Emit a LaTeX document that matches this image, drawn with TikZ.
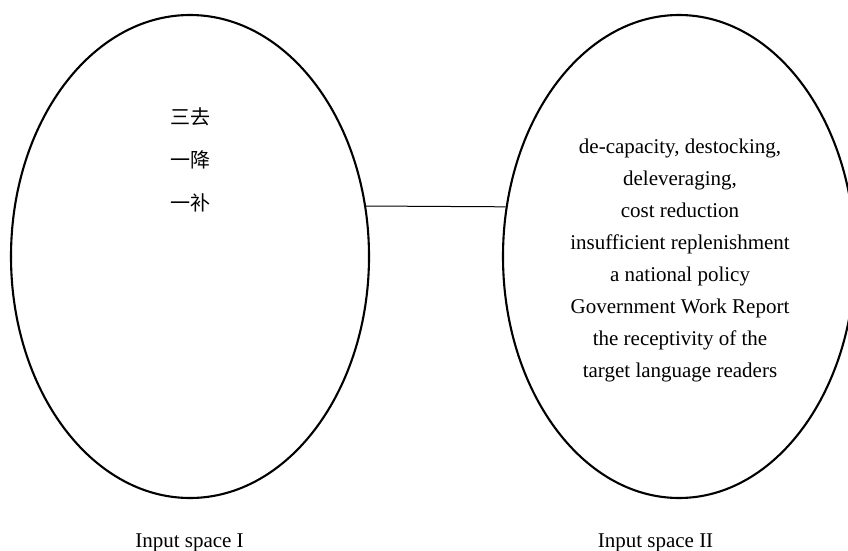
\documentclass[tikz,border=0pt]{standalone}
\usepackage{fontspec}
\setmainfont{Liberation Serif}
\newfontfamily\cjk{Noto Sans CJK SC}
\usepackage{tikz}
\usetikzlibrary{shapes.geometric}
\usetikzlibrary{positioning}

\begin{document}
\begin{tikzpicture}[
        x=1pt, y=-1pt,
        every node/.style={inner sep=0pt},
        ]
        \tikzstyle{inputspace} = [ellipse, draw, line width=2.1pt, minimum width=358pt, minimum height=483pt];
        \tikzstyle{spacename} = [font=\fontsize{21}{21}\selectfont, anchor=base];
        \useasboundingbox (0,0) rectangle (848,551);
        \clip (0,0) rectangle (848,551);

        \node[inputspace] (in1) at (190,256.5) {};
        \node[inputspace, minimum width=352pt] (in2) at (679,256.5) {};

        \node[align=center, font=\cjk\fontsize{20}{43}\selectfont] (terms1) at (190,160) {三去\\一降\\一补};
        \node[align=center, font=\fontsize{21}{32.1}\selectfont] (terms2) at (680,260.5)
            {de-capacity, destocking,\\deleveraging,\\cost reduction\\insufficient replenishment\\a national policy\\Government Work Report\\the receptivity of the\\target language readers};

        \draw[line width=1pt] (in1.16) -- (in2.164);

        \node[spacename] (name1) at (189.5,547) {Input space I};
        \node[spacename] (name2) at (655.5,547) {Input space II};
    \end{tikzpicture}
\end{document}
